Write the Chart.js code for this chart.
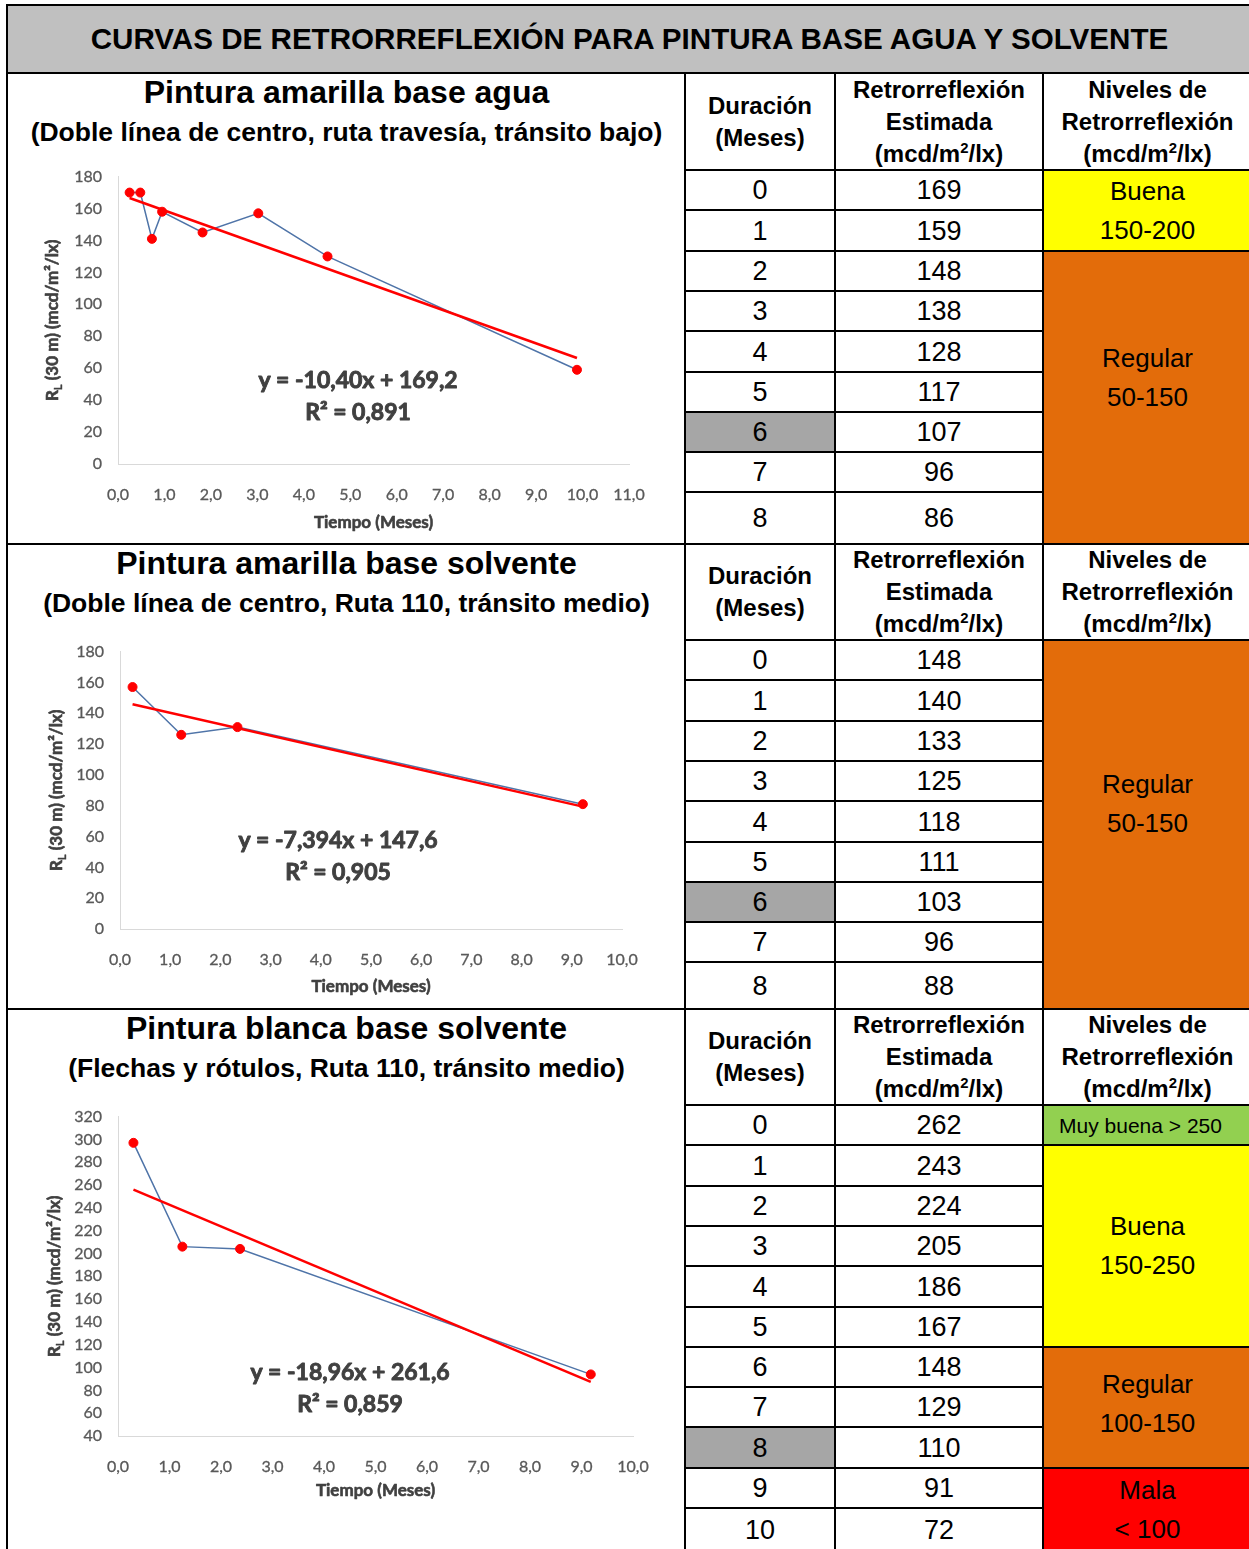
<!DOCTYPE html>
<html><head><meta charset="utf-8">
<script src="https://cdn.jsdelivr.net/npm/chart.js@4.4.1/dist/chart.umd.min.js"></script>
<style>
html,body{margin:0;padding:0;background:#fff;}
#page{position:relative;width:1249px;height:1549px;overflow:hidden;font-family:"Liberation Sans",Arial,sans-serif;color:#000;}
.cell{position:absolute;box-sizing:border-box;border:2px solid #000;display:flex;flex-direction:column;align-items:center;justify-content:center;text-align:center;}
.hdr{font-weight:bold;font-size:24px;line-height:32px;}
.num{font-size:27px;line-height:30px;}
.lvl{font-size:26px;line-height:39px;}
.small{font-size:21px;}
.ttl{position:absolute;left:8px;width:677px;text-align:center;font-weight:bold;white-space:nowrap;}
.bigt{font-size:32px;line-height:36px;}
.subt{font-size:26.5px;line-height:30px;}
sup{font-size:0.62em;line-height:0;vertical-align:0.6em;}
canvas{position:absolute;}
.fl{position:absolute;left:-999px;top:0;font-family:Lato;}
</style></head><body><div id="page"></div>
<span class="fl" style="font-weight:700">Lato bold 0,1</span><span class="fl">Lato 0,1</span>
<script>
// ---------- DATA ----------
const mainTitle = "CURVAS DE RETRORREFLEXIÓN PARA PINTURA BASE AGUA Y SOLVENTE";
const sectionTitles = ["Pintura amarilla base agua", "Pintura amarilla base solvente", "Pintura blanca base solvente"];
const sectionSubtitles = ["(Doble línea de centro, ruta travesía, tránsito bajo)", "(Doble línea de centro, Ruta 110, tránsito medio)", "(Flechas y rótulos, Ruta 110, tránsito medio)"];
const headerDuracion = "Duración<br>(Meses)";
const headerEstimada = "Retrorreflexión<br>Estimada<br>(mcd/m<sup>2</sup>/lx)";
const headerNiveles = "Niveles de<br>Retrorreflexión<br>(mcd/m<sup>2</sup>/lx)";

const months1 = [0, 1, 2, 3, 4, 5, 6, 7, 8];
const estimated1 = [169, 159, 148, 138, 128, 117, 107, 96, 86];
const levelLabels1 = ["Buena<br>150-200", "Regular<br>50-150"];
const levelRows1 = [2, 7];
const levelColors1 = ["#ffff00", "#e36c0a"];
const highlightMonth1 = 6;

const months2 = [0, 1, 2, 3, 4, 5, 6, 7, 8];
const estimated2 = [148, 140, 133, 125, 118, 111, 103, 96, 88];
const levelLabels2 = ["Regular<br>50-150"];
const levelRows2 = [9];
const levelColors2 = ["#e36c0a"];
const highlightMonth2 = 6;

const months3 = [0, 1, 2, 3, 4, 5, 6, 7, 8, 9, 10];
const estimated3 = [262, 243, 224, 205, 186, 167, 148, 129, 110, 91, 72];
const levelLabels3 = ["Muy buena &gt; 250", "Buena<br>150-250", "Regular<br>100-150", "Mala<br>&lt; 100"];
const levelRows3 = [1, 5, 3, 2];
const levelColors3 = ["#92d050", "#ffff00", "#e36c0a", "#ff0000"];
const highlightMonth3 = 8;

// chart series
const time1 = [0.25, 0.48, 0.73, 0.95, 1.82, 3.02, 4.51, 9.88];
const rl1   = [170, 170, 141, 158, 145, 157, 130, 59];
const trendX1 = [0.25, 9.88];
const trendY1 = [166.6, 66.4];
const eq1 = "y = -10,40x + 169,2";
const r2_1 = "R² = 0,891";

const time2 = [0.25, 1.22, 2.34, 9.22];
const rl2   = [157, 126, 131, 81];
const trendX2 = [0.25, 9.22];
const trendY2 = [145.8, 79.4];
const eq2 = "y = -7,394x + 147,6";
const r2_2 = "R² = 0,905";

const time3 = [0.3, 1.25, 2.37, 9.18];
const rl3   = [297, 206, 204, 94];
const trendX3 = [0.3, 9.18];
const trendY3 = [255.9, 87.5];
const eq3 = "y = -18,96x + 261,6";
const r2_3 = "R² = 0,859";

const xAxisTitle = "Tiempo (Meses)";

// ---------- LAYOUT ----------
const page = document.getElementById('page');
function cell(x1, y1, x2, y2, bg, html, cls, extra) {
  const d = document.createElement('div');
  d.className = 'cell ' + (cls || '');
  d.style.left = (x1 - 1) + 'px';
  d.style.top = (y1 - 1) + 'px';
  d.style.width = (x2 - x1 + 2) + 'px';
  d.style.height = (y2 - y1 + 2) + 'px';
  if (bg) d.style.background = bg;
  if (html) d.innerHTML = '<div>' + html + '</div>';
  if (extra) Object.assign(d.style, extra);
  page.appendChild(d);
  return d;
}
const C0 = 685, C1 = 835, C2 = 1043, C3 = 1252;
cell(7, 5, C3, 73, '#c0c0c0', '<div style="font-weight:bold;font-size:29.6px;">' + mainTitle + '</div>');

const secTops = [73, 544, 1009, 1552];
const headerH = [97, 96, 96];
const rowH = 40.3;
const tables = [
  {months: months1, est: estimated1, labels: levelLabels1, spans: levelRows1, colors: levelColors1, hi: highlightMonth1, lvlPad: [0, 40], lvlPadR: [0, 0]},
  {months: months2, est: estimated2, labels: levelLabels2, spans: levelRows2, colors: levelColors2, hi: highlightMonth2, lvlPad: [42], lvlPadR: [0]},
  {months: months3, est: estimated3, labels: levelLabels3, spans: levelRows3, colors: levelColors3, hi: highlightMonth3, lvlPad: [0, 0, 8, 0], lvlPadR: [14, 0, 0, 0]}
];
tables.forEach((t, s) => {
  const top = secTops[s], bottom = secTops[s + 1];
  cell(7, top, C0, bottom, null, null, '');
  const tt = document.createElement('div');
  tt.className = 'ttl bigt'; tt.style.top = (top + 1) + 'px'; tt.textContent = sectionTitles[s];
  page.appendChild(tt);
  const st = document.createElement('div');
  st.className = 'ttl subt'; st.style.top = (top + 44) + 'px'; st.textContent = sectionSubtitles[s];
  page.appendChild(st);
  const hb = top + headerH[s];
  cell(C0, top, C1, hb, '#fff', headerDuracion, 'hdr');
  cell(C1, top, C2, hb, '#fff', headerEstimada, 'hdr');
  cell(C2, top, C3, hb, '#fff', headerNiveles, 'hdr');
  const n = t.months.length;
  const ys = [];
  for (let i = 0; i < n; i++) ys.push(Math.round(hb + i * rowH));
  ys.push(bottom);
  for (let i = 0; i < n; i++) {
    cell(C0, ys[i], C1, ys[i + 1], t.months[i] === t.hi ? '#a6a6a6' : '#fff', String(t.months[i]), 'num');
    cell(C1, ys[i], C2, ys[i + 1], '#fff', String(t.est[i]), 'num');
  }
  let r = 0;
  t.labels.forEach((lab, k) => {
    const y1 = ys[r], y2 = ys[r + t.spans[k]];
    const cls = t.spans[k] === 1 ? 'lvl small' : 'lvl';
    cell(C2, y1, C3, y2, t.colors[k], lab, cls, {paddingBottom: (t.lvlPad[k] || 0) + 'px', paddingRight: (t.lvlPadR[k] || 0) + 'px'});
    r += t.spans[k];
  });
});

// ---------- CHARTS ----------
function heavyText(ctx, txt, x, y, w) {
  ctx.lineWidth = w;
  ctx.strokeText(txt, x, y);
  ctx.fillText(txt, x, y);
}
const textPlugin = {
  id: 'txt',
  afterDraw(chart, args, o) {
    const ctx = chart.ctx, a = chart.chartArea;
    ctx.save();
    ctx.fillStyle = '#404040';
    ctx.strokeStyle = '#404040';
    ctx.lineJoin = 'round';
    ctx.textAlign = 'center';
    ctx.textBaseline = 'middle';
    ctx.font = 'bold 23px Lato';
    heavyText(ctx, o.eq, o.eqX, o.eqY, 0.9);
    heavyText(ctx, o.r2, o.eqX, o.eqY + 32, 0.9);
    ctx.font = 'bold 17px Lato';
    heavyText(ctx, o.xTitle, (a.left + a.right) / 2, o.xTitleY, 0.6);
    ctx.translate(o.yTitleX, (a.top + a.bottom) / 2);
    ctx.rotate(-Math.PI / 2);
    ctx.textAlign = 'left';
    const f1 = 'bold 17px Lato', f2 = 'bold 11px Lato';
    const rest = ' (30 m) (mcd/m²/lx)';
    ctx.font = f1; const wR = ctx.measureText('R').width; const wRest = ctx.measureText(rest).width;
    ctx.font = f2; const wL = ctx.measureText('L').width;
    let x = -(wR + wL + wRest) / 2;
    ctx.font = f1; heavyText(ctx, 'R', x, 0, 0.6); x += wR;
    ctx.font = f2; heavyText(ctx, 'L', x, 5, 0.4); x += wL;
    ctx.font = f1; heavyText(ctx, rest, x, 0, 0.6);
    ctx.restore();
  }
};

function makeChart(spec) {
  const c = document.createElement('canvas');
  c.width = spec.w; c.height = spec.h;
  c.style.left = spec.left + 'px'; c.style.top = spec.top + 'px';
  c.style.width = spec.w + 'px'; c.style.height = spec.h + 'px';
  page.appendChild(c);
  const pts = spec.xs.map((x, i) => ({x: x, y: spec.ys[i]}));
  const tr = spec.tx.map((x, i) => ({x: x, y: spec.ty[i]}));
  const tickFont = {family: 'Lato', size: 16};
  return new Chart(c, {
    type: 'scatter',
    data: {datasets: [
      {data: pts, showLine: false, pointRadius: 4.5, pointBackgroundColor: '#ff0000', pointBorderColor: '#ff0000', pointBorderWidth: 1, order: 0},
      {data: tr, showLine: true, borderColor: '#ff0000', borderWidth: 2.5, pointRadius: 0, order: 1},
      {data: pts, showLine: true, borderColor: '#4f74a8', borderWidth: 1.5, pointRadius: 0, order: 2}
    ]},
    options: {
      responsive: false, animation: false, events: [],
      layout: {autoPadding: false, padding: {top: 17, right: spec.padRight, left: 0, bottom: 0}},
      plugins: {legend: {display: false}, tooltip: {enabled: false},
        txt: {eq: spec.eq, r2: spec.r2, eqX: spec.eqX - spec.left, eqY: spec.eqY - spec.top,
              xTitle: xAxisTitle, xTitleY: spec.xTitleY - spec.top, yTitleX: spec.yTitleX - spec.left}},
      scales: {
        x: {type: 'linear', min: 0, max: spec.xmax,
            ticks: {stepSize: 1, padding: 21, color: '#595959', font: tickFont, autoSkip: false, maxRotation: 0,
                    textStrokeColor: '#595959', textStrokeWidth: 0.3,
                    callback: v => v.toFixed(1).replace('.', ',')},
            grid: {display: false, drawTicks: false},
            border: {display: true, color: '#d9d9d9', width: 1},
            afterFit: s => { s.height = spec.xH; }},
        y: {type: 'linear', min: spec.ymin, max: spec.ymax,
            ticks: {stepSize: 20, padding: 16, color: '#595959', font: tickFont, autoSkip: false,
                    textStrokeColor: '#595959', textStrokeWidth: 0.3},
            grid: {display: false, drawTicks: false},
            border: {display: true, color: '#d9d9d9', width: 1},
            afterFit: s => { s.width = spec.yW; }}
      }
    },
    plugins: [textPlugin]
  });
}

function buildCharts() {
  makeChart({left: 20, top: 151, w: 650, h: 389, padRight: 41, yW: 98, xH: 76,
    xmax: 11, ymin: 0, ymax: 180, xs: time1, ys: rl1, tx: trendX1, ty: trendY1,
    eq: eq1, r2: r2_1, eqX: 358, eqY: 381, xTitleY: 523, yTitleX: 53});
  makeChart({left: 20, top: 626, w: 650, h: 379, padRight: 48, yW: 100, xH: 76,
    xmax: 10, ymin: 0, ymax: 180, xs: time2, ys: rl2, tx: trendX2, ty: trendY2,
    eq: eq2, r2: r2_2, eqX: 338, eqY: 841, xTitleY: 987, yTitleX: 57});
  makeChart({left: 20, top: 1091, w: 650, h: 419, padRight: 37, yW: 98, xH: 74,
    xmax: 10, ymin: 40, ymax: 320, xs: time3, ys: rl3, tx: trendX3, ty: trendY3,
    eq: eq3, r2: r2_3, eqX: 350, eqY: 1373, xTitleY: 1491, yTitleX: 55});
}
Promise.all([
  document.fonts.load('bold 16px Lato'),
  document.fonts.load('16px Lato')
]).then(buildCharts, buildCharts);
</script></body></html>
